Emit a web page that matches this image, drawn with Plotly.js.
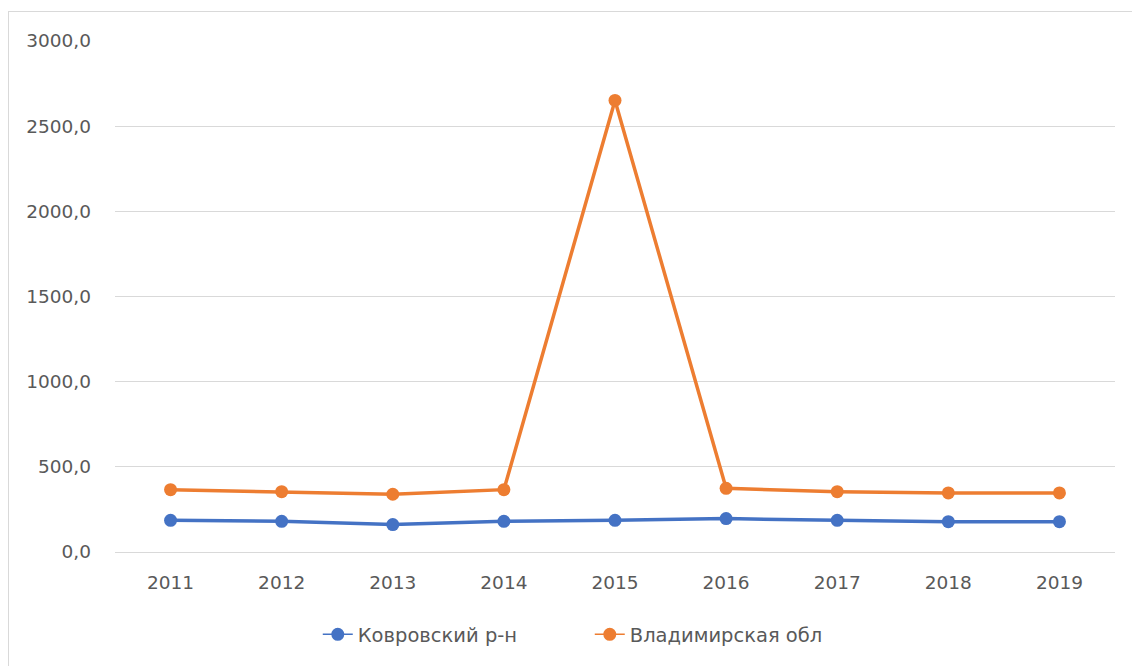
<!DOCTYPE html>
<html>
<head>
<meta charset="utf-8">
<script src="https://cdn.plot.ly/plotly-3.0.1.min.js"></script>
<style>
  html, body { margin: 0; padding: 0; background: #fff; }
  #wrap { position: relative; width: 1132px; height: 666px; overflow: hidden; }
  #frame { position: absolute; left: 8px; top: 11px; width: 1140px; height: 680px;
           border-left: 1.5px solid #d9d9d9; border-top: 1.5px solid #d9d9d9; pointer-events: none; }
  #chart { position: absolute; left: 0; top: 0; width: 1132px; height: 666px; }
</style>
</head>
<body>
<div id="wrap">
  <div id="chart"></div>
  <div id="frame"></div>
</div>
<script>
const years = ['2011','2012','2013','2014','2015','2016','2017','2018','2019'];
const kovrovValues = [186, 180, 161, 180, 186, 196, 186, 178, 178];
const vladimirValues = [366, 354, 339, 366, 2651, 374, 354, 347, 347];
const seriesNames = ['Ковровский р-н', 'Владимирская обл'];
const seriesColors = ['#4472C4', '#ED7D31'];
const yTicks = [0, 500, 1000, 1500, 2000, 2500, 3000];

const fontFam = '"DejaVu Sans", "Noto Sans", sans-serif';
const seriesValues = [kovrovValues, vladimirValues];
const traces = [];
seriesValues.forEach((vals, i) => {
  traces.push({ x: years, y: vals, name: seriesNames[i], type: 'scatter', mode: 'lines+markers',
    showlegend: false, legendgroup: 'g' + i,
    line: { color: seriesColors[i], width: 3.5 }, marker: { color: seriesColors[i], size: 13 } });
});
seriesValues.forEach((vals, i) => {
  traces.push({ x: [years[0]], y: [null], name: seriesNames[i], type: 'scatter', mode: 'lines+markers',
    showlegend: true, legendgroup: 'g' + i,
    line: { color: seriesColors[i], width: 1.5 }, marker: { color: seriesColors[i], size: 13 } });
});

const layout = {
  width: 1132, height: 666,
  margin: { l: 115, r: 17, t: 41, b: 114 },
  paper_bgcolor: '#ffffff', plot_bgcolor: '#ffffff',
  separators: ', ',
  font: { family: fontFam, size: 18.5, color: '#595959' },
  showlegend: true,
  legend: { orientation: 'h', x: 0.521, xref: 'container', xanchor: 'center',
            y: 0.047, yref: 'container', yanchor: 'middle',
            font: { family: fontFam, size: 19.5, color: '#595959' },
            entrywidth: 227, tracegroupgap: 0 },
  xaxis: { type: 'category', range: [-0.5, 8.5], showgrid: false, zeroline: false,
           showline: true, linecolor: '#d9d9d9', linewidth: 1, ticks: '',
           ticklabelstandoff: 14, tickfont: { family: fontFam, size: 18.5, color: '#595959' } },
  yaxis: { range: [0, 3000], tickvals: yTicks, tickformat: '.1f', showgrid: true,
           gridcolor: '#d9d9d9', gridwidth: 1, zeroline: false, showline: false, ticks: '',
           ticklabelstandoff: 23, tickfont: { family: fontFam, size: 18.5, color: '#595959' } }
};

Plotly.newPlot('chart', traces, layout, { displayModeBar: false, staticPlot: true });
</script>
</body>
</html>
